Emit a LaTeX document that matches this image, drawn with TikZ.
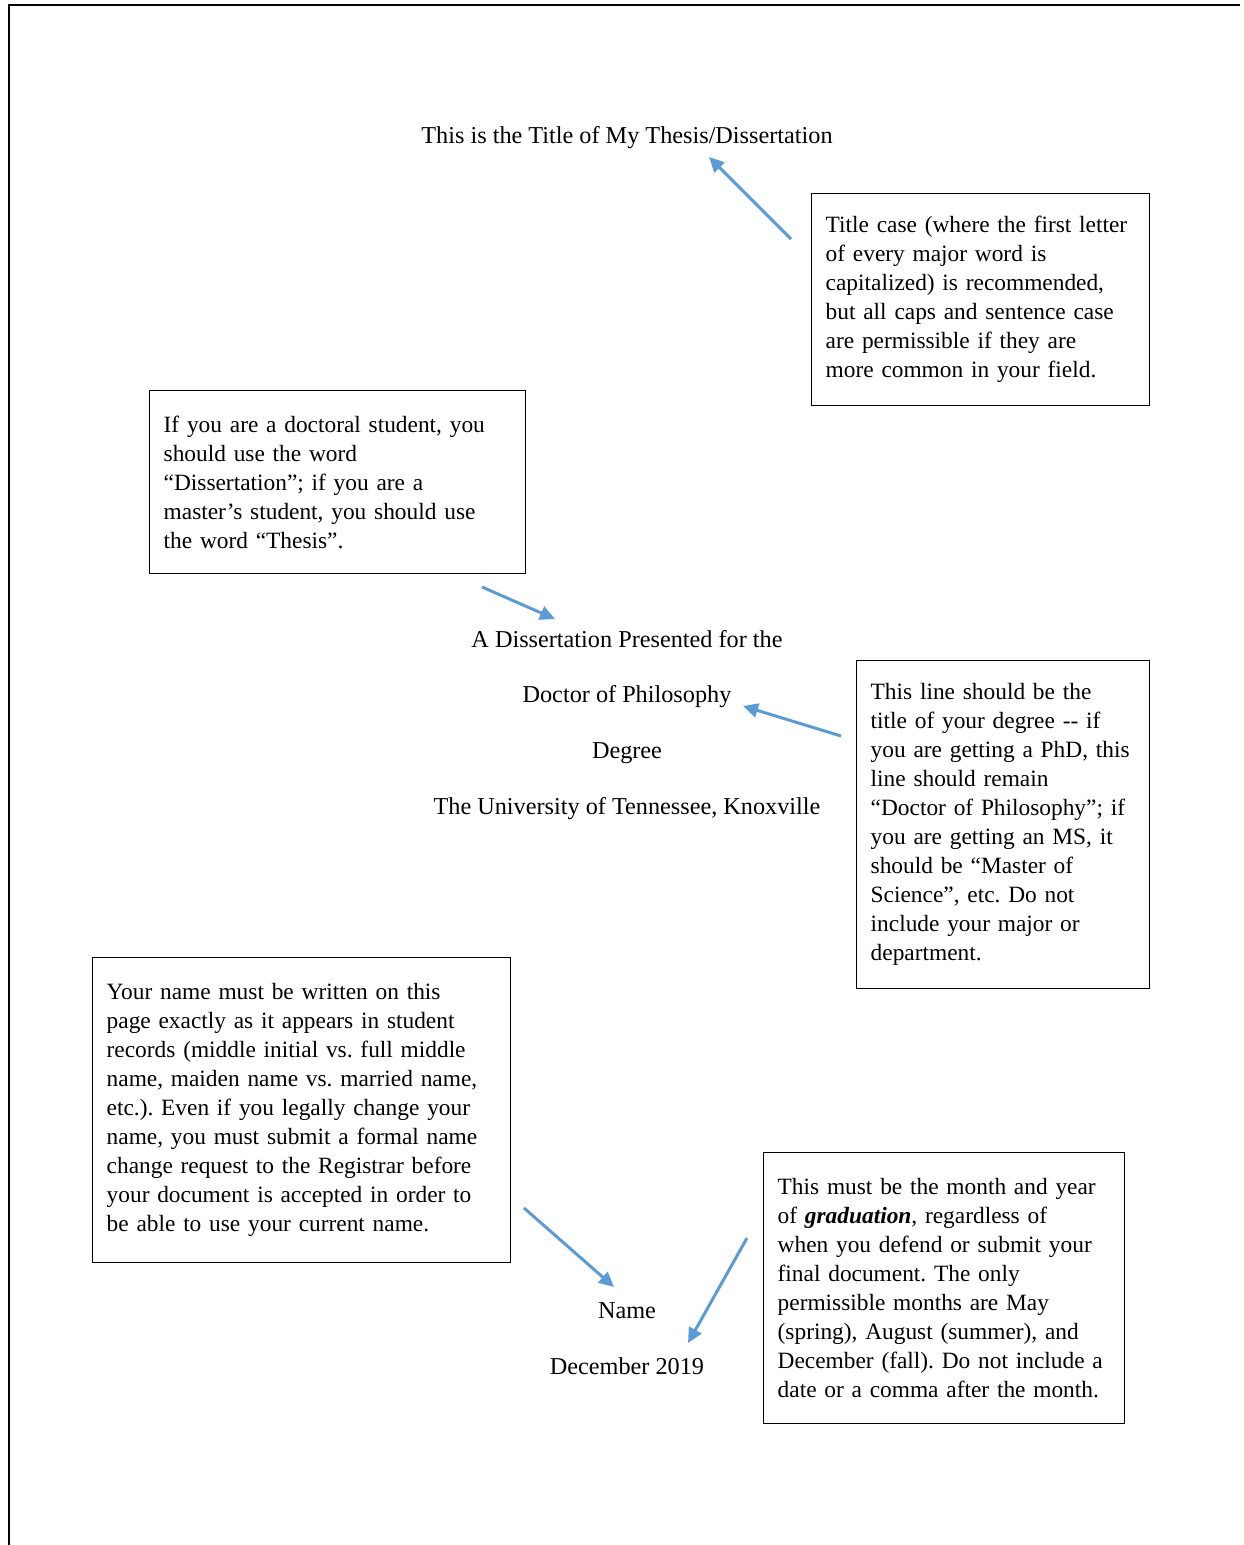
\documentclass[tikz,border=0pt]{standalone}
\usepackage{fontspec}
\setmainfont{Liberation Serif}
\usetikzlibrary{arrows.meta}
\definecolor{noteblue}{RGB}{91,155,213}
\frenchspacing
\hyphenpenalty=10000

\begin{document}
\begin{tikzpicture}[
x=0.02cm, y=-0.02cm,
font=\fontsize{13.8}{16.5}\selectfont,
>={Triangle[length=0.3cm, width=0.28cm]},
page line/.style = {line width=1.1pt},
line label/.style = {text centered},
note box/.style = {draw, line width=0.8pt, align=left, anchor=north west, inner xsep=0.28cm,
  font=\fontsize{13.3}{16.5}\selectfont},
pointer/.style = {->, noteblue, line width=1.7pt},
]

\useasboundingbox (0,0) rectangle (1244,1545);
\draw[page line] (1240,5) -- (9,5) -- (9,1545);

% centred page lines
\node (title) [line label] at (627,138) {This is the Title of My Thesis/Dissertation};
\node (presented) [line label] at (627,639) {A Dissertation Presented for the};
\node (doctor) [line label] at (627,697) {Doctor of Philosophy};
\node (degree) [line label] at (627,753) {Degree};
\node (univ) [line label] at (627,809) {The University of Tennessee, Knoxville};
\node (name) [line label] at (627,1311) {Name};
\node (date) [line label] at (627,1366) {December 2019};

% notes
\node (titlenote) [note box, text width=6.2cm, minimum height=4.24cm] at (811,193)
{Title case (where the first letter\\ of every major word is\\ capitalized) is recommended,\\ but all caps and sentence case\\ are permissible if they are\\ more common in your field.};
\node (wordnote) [note box, text width=6.96cm, minimum height=3.66cm] at (149,390)
{If you are a doctoral student, you\\ should use the word\\ “Dissertation”; if you are a\\ master’s student, you should use\\ the word “Thesis”.};
\node (degreenote) [note box, text width=5.3cm, minimum height=6.56cm] at (856,660)
{This line should be the\\ title of your degree -{}- if\\ you are getting a PhD, this\\ line should remain\\ “Doctor of Philosophy”; if\\ you are getting an MS, it\\ should be “Master of\\ Science”, etc. Do not\\ include your major or\\ department.};
\node (namenote) [note box, text width=7.8cm, minimum height=6.1cm] at (92,957)
{Your name must be written on this\\ page exactly as it appears in student\\ records (middle initial vs. full middle\\ name, maiden name vs. married name,\\ etc.). Even if you legally change your\\ name, you must submit a formal name\\ change request to the Registrar before\\ your document is accepted in order to\\ be able to use your current name.};
\node (datenote) [note box, text width=6.66cm, minimum height=5.42cm] at (763,1152)
{This must be the month and year\\ of \textbf{\textit{graduation}}, regardless of\\ when you defend or submit your\\ final document. The only\\ permissible months are May\\ (spring), August (summer), and\\ December (fall). Do not include a\\ date or a comma after the month.};

% arrow ends
\coordinate (t1) at (791,239);
\coordinate (t2) at (709,157);
\coordinate (w1) at (482,587);
\coordinate (w2) at (555,619);
\coordinate (d1) at (841,736);
\coordinate (d2) at (743,706);
\coordinate (n1) at (524,1208);
\coordinate (n2) at (614,1287);
\coordinate (m1) at (747,1238);
\coordinate (m2) at (688,1343);

\draw[pointer] (t1) -- (t2);
\draw[pointer] (w1) -- (w2);
\draw[pointer] (d1) -- (d2);
\draw[pointer] (n1) -- (n2);
\draw[pointer] (m1) -- (m2);

\end{tikzpicture}
\end{document}
